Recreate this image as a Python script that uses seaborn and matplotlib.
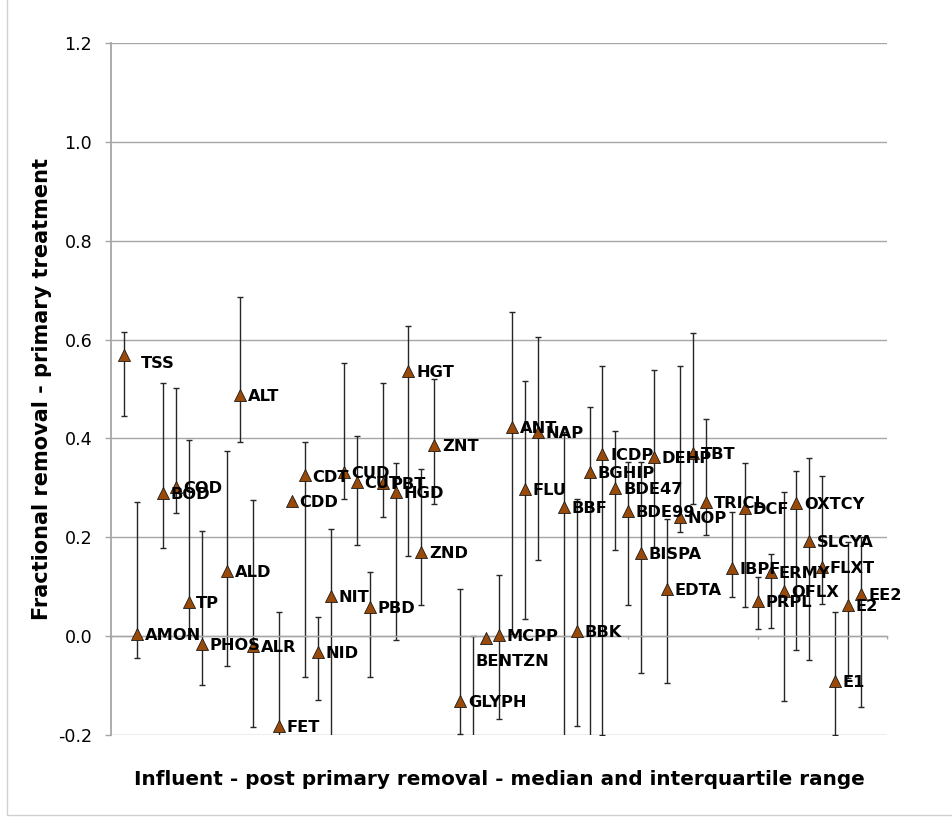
import matplotlib
matplotlib.use("Agg")
import matplotlib.pyplot as plt
import seaborn as sns
import pandas as pd
from matplotlib.lines import Line2D

# ---- data ----
names = ["TSS", "AMON", "BOD", "COD", "TP", "PHOS", "ALD", "ALT", "ALR", "FET",
         "CDD", "CDT", "NID", "NIT", "CUD", "CUT", "PBD", "PBT", "HGD", "HGT",
         "ZND", "ZNT", "GLYPH", "", "BENTZN", "MCPP", "ANT", "FLU", "NAP", "BBF",
         "BBK", "BGHIP", "ICDP", "BDE47", "BDE99", "BISPA", "DEHP", "EDTA", "NOP", "TBT",
         "TRICL", "IBPF", "DCF", "PRPL", "ERMY", "OFLX", "OXTCY", "SLCYA", "FLXT", "E1",
         "E2", "EE2"]
xpos = [1, 2, 4, 5, 6, 7, 9, 10, 11, 13,
        14, 15, 16, 17, 18, 19, 20, 21, 22, 23,
        24, 25, 27, 28, 29, 30, 31, 32, 33, 35,
        36, 37, 38, 39, 40, 41, 42, 43, 44, 45,
        46, 48, 49, 50, 51, 52, 53, 54, 55, 56,
        57, 58]
median = [0.569, 0.004, 0.290, 0.302, 0.069, -0.016, 0.132, 0.487, -0.019, -0.182,
          0.273, 0.325, -0.032, 0.082, 0.333, 0.312, 0.059, 0.310, 0.291, 0.537,
          0.170, 0.386, -0.131, -0.300, -0.003, 0.002, 0.424, 0.298, 0.412, 0.261,
          0.010, 0.333, 0.368, 0.300, 0.254, 0.169, 0.362, 0.096, 0.241, 0.370,
          0.271, 0.138, 0.260, 0.072, 0.130, 0.091, 0.269, 0.192, 0.140, -0.090,
          0.062, 0.086]
lower_q = [0.445, -0.044, 0.178, 0.249, 0.003, -0.099, -0.061, 0.393, -0.184, -0.250,
           0.273, -0.082, -0.130, -0.250, 0.277, 0.184, -0.082, 0.242, -0.008, 0.163,
           0.064, 0.267, -0.198, -0.400, -0.003, -0.167, 0.005, 0.035, 0.155, -0.250,
           -0.182, -0.250, -0.199, 0.174, 0.063, -0.074, 0.181, -0.094, 0.211, 0.268,
           0.204, 0.079, 0.058, 0.014, 0.016, -0.132, -0.028, -0.049, 0.066, -0.200,
           -0.085, -0.143]
upper_q = [0.616, 0.272, 0.512, 0.503, 0.397, 0.212, 0.374, 0.686, 0.276, 0.049,
           0.273, 0.393, 0.038, 0.216, 0.553, 0.405, 0.130, 0.512, 0.350, 0.627,
           0.339, 0.520, 0.096, 0.001, -0.003, 0.123, 0.655, 0.517, 0.605, 0.413,
           0.278, 0.464, 0.547, 0.416, 0.353, 0.353, 0.539, 0.238, 0.547, 0.613,
           0.439, 0.252, 0.350, 0.119, 0.167, 0.291, 0.335, 0.361, 0.323, 0.049,
           0.191, 0.200]
y_ticks = [-0.2, 0.0, 0.2, 0.4, 0.6, 0.8, 1.0, 1.2]

df = pd.DataFrame({"name": names, "x": xpos, "median": median,
                   "lo": lower_q, "hi": upper_q})

sns.set_style("white")
plt.rcParams["font.family"] = ["DejaVu Sans"]
plt.rcParams["text.color"] = "#000000"
plt.rcParams["axes.labelcolor"] = "#000000"

W, H = 952, 821
fig = plt.figure(figsize=(W / 100, H / 100), dpi=100)
ax = fig.add_axes([111 / W, (H - 735) / H, (887 - 111) / W, (735 - 43) / H])

grid_c = "#a6a6a6"
for yv in y_ticks:
    ax.axhline(yv, color=grid_c, lw=1.0, zorder=0)

# error bars (interquartile range)
ax.errorbar(df["x"], df["median"],
            yerr=[df["median"] - df["lo"], df["hi"] - df["median"]],
            fmt="none", ecolor="#262626", elinewidth=1.0, capsize=2.0,
            capthick=1.0, zorder=2)

sns.scatterplot(data=df, x="x", y="median", marker="^", s=75,
                color="#9a4a08", edgecolor="#1a1a1a", linewidth=0.6,
                ax=ax, zorder=3, legend=False)

special = {"TSS": ((12, -5), "left"), "BENTZN": ((19, -16), "center")}
for _, r in df.iterrows():
    if not r["name"]:
        continue
    off, ha = special.get(r["name"], ((5.5, 0), "left"))
    ax.annotate(r["name"], (r["x"], r["median"]), xytext=off,
                textcoords="offset points", ha=ha, va="center_baseline",
                fontsize=11.7, fontweight="bold", color="#000000",
                zorder=4, annotation_clip=True)

ax.set_xlim(0, 60)
ax.set_ylim(-0.2, 1.2)
ax.set_yticks(y_ticks)
ax.set_yticklabels([f"{v:.1f}" for v in y_ticks])
ax.set_xticks(range(0, 61, 10))
ax.set_xticklabels([])

for s in ["top", "right"]:
    ax.spines[s].set_visible(False)
ax.spines["left"].set_color(grid_c)
ax.spines["left"].set_linewidth(1.3)
ax.spines["bottom"].set_position(("data", 0))
ax.spines["bottom"].set_color(grid_c)
ax.spines["bottom"].set_linewidth(1.0)
ax.tick_params(axis="y", direction="out", length=4.5, width=1, color=grid_c,
               pad=9, labelsize=12.6, labelcolor="#000000", left=True)
ax.tick_params(axis="x", direction="out", length=2.5, width=1, color=grid_c,
               bottom=True)

ax.set_xlabel("")
ax.set_ylabel("")
fig.text(499 / W, 1 - 779 / H,
         "Influent - post primary removal - median and interquartile range",
         ha="center", va="center", fontsize=14.4, fontweight="bold", color="#000000")
fig.text(42 / W, 1 - 389 / H, "Fractional removal - primary treatment",
         ha="center", va="center", rotation=90, fontsize=15, fontweight="bold",
         color="#000000")

# chart area border
fig.add_artist(Line2D([7 / W, 7 / W], [1 - 815 / H, 1.0], transform=fig.transFigure,
                      color="#d0d0d0", lw=1))
fig.add_artist(Line2D([7 / W, 1.0], [1 - 815 / H, 1 - 815 / H], transform=fig.transFigure,
                      color="#d0d0d0", lw=1))

fig.savefig("out.png", dpi=100)
